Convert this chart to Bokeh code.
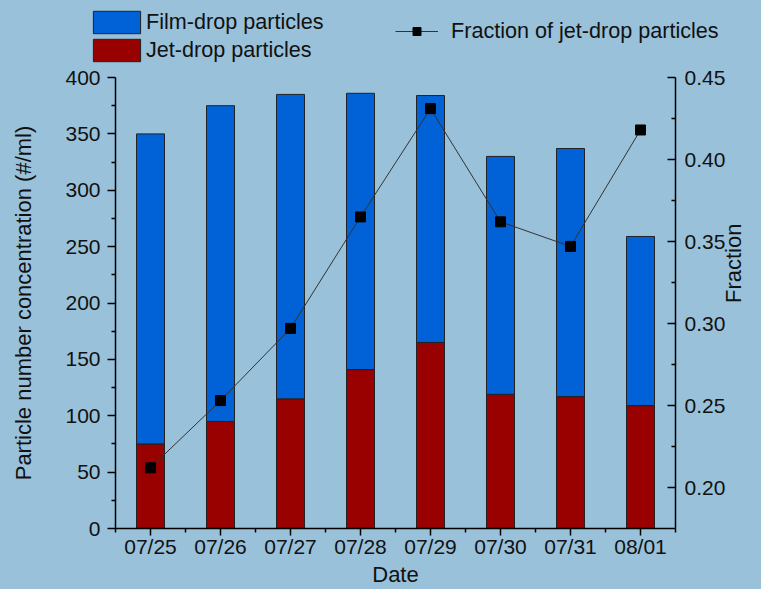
import math
from bokeh.plotting import figure
from bokeh.layouts import column
from bokeh.models import (Range1d, LinearAxis, FixedTicker, Legend, LegendItem,
                          NumeralTickFormatter, ColumnDataSource)
from bokeh.embed import file_html
from bokeh.resources import INLINE

# ---- data ----
dates = ["07/25", "07/26", "07/27", "07/28", "07/29", "07/30", "07/31", "08/01"]
jet_drop = [75, 95, 115, 141, 165, 119, 117, 109]
film_drop = [275, 280, 270, 245, 219, 211, 220, 150]
fraction = [0.212, 0.253, 0.297, 0.365, 0.431, 0.362, 0.347, 0.418]
count_ticks = [0, 50, 100, 150, 200, 250, 300, 350, 400]
fraction_ticks = [0.20, 0.25, 0.30, 0.35, 0.40, 0.45]

# ---- styles ----
BG = "#99C1DA"
BLUE = "#0062D6"
RED = "#990000"
TXT = "#111111"
FONT = "Liberation Sans"
BAR_W = 0.4

xpos = list(range(len(dates)))
total = [j + f for j, f in zip(jet_drop, film_drop)]
src = ColumnDataSource(dict(x=xpos, jet=jet_drop, total=total, frac=fraction))

bar_style = dict(width=BAR_W, line_color="#222222", line_width=1)
line_style = dict(line_color="#333333", line_width=1)
mark_style = dict(marker="square", size=10, fill_color="black", line_color="black")

# ---------------- main chart ----------------
p = figure(width=761, height=526, output_backend="svg", toolbar_location=None,
           x_range=Range1d(-0.5, len(dates) - 0.5), y_range=Range1d(0, 400),
           min_border_left=115, min_border_right=86, min_border_top=14,
           min_border_bottom=60,
           background_fill_color=BG, border_fill_color=BG, outline_line_color=None)
p.grid.visible = False
p.extra_y_ranges = {"frac": Range1d(0.175, 0.45)}

p.vbar(x="x", bottom=0, top="jet", source=src, fill_color=RED, **bar_style)
p.vbar(x="x", bottom="jet", top="total", source=src, fill_color=BLUE, **bar_style)
p.line(x="x", y="frac", source=src, y_range_name="frac", **line_style)
p.scatter(x="x", y="frac", source=src, y_range_name="frac", **mark_style)

def mids(t):
    return [(a + b) / 2 for a, b in zip(t[:-1], t[1:])]

xa = p.xaxis[0]
xa.ticker = FixedTicker(ticks=xpos, minor_ticks=[i - 0.5 for i in range(len(dates) + 1)])
xa.major_label_overrides = {i: d for i, d in zip(xpos, dates)}
xa.axis_label = "Date"

ya = p.yaxis[0]
ya.ticker = FixedTicker(ticks=count_ticks, minor_ticks=mids(count_ticks))
ya.axis_label = "Particle number concentration (#/ml)"

ra = LinearAxis(y_range_name="frac",
                ticker=FixedTicker(ticks=fraction_ticks, minor_ticks=mids(fraction_ticks)),
                formatter=NumeralTickFormatter(format="0.00"),
                axis_label="Fraction")
p.add_layout(ra, "right")
try:
    ra.axis_label_orientation = math.pi / 2
except Exception:
    pass

for ax in (xa, ya, ra):
    ax.axis_line_color = "black"
    ax.axis_line_width = 1.5
    ax.major_tick_line_color = "black"
    ax.minor_tick_line_color = "black"
    ax.major_tick_line_width = 1.5
    ax.minor_tick_line_width = 1.5
    ax.major_label_text_font = FONT
    ax.major_label_text_font_size = "21px"
    ax.major_label_text_color = TXT
    ax.axis_label_text_font = FONT
    ax.axis_label_text_font_size = "22px"
    ax.axis_label_text_font_style = "normal"
    ax.axis_label_text_color = TXT

xa.major_tick_out = 7
xa.major_tick_in = 0
xa.minor_tick_out = 4
xa.minor_tick_in = 0
xa.major_label_standoff = -1
xa.axis_label_standoff = 1

ya.major_tick_out = 8
ya.major_tick_in = 0
ya.minor_tick_out = 4
ya.minor_tick_in = 0
ya.major_label_standoff = 7
ya.axis_label_standoff = 26

ra.major_tick_out = 0
ra.major_tick_in = 8
ra.minor_tick_out = 0
ra.minor_tick_in = 4
ra.major_label_standoff = 9
ra.axis_label_standoff = 5
ra.axis_label_text_baseline = "top"

# ---------------- legend strip above the chart ----------------
# same renderers/styles as the chart; the view range is empty so only the legend shows
top = figure(width=761, height=63, output_backend="svg", toolbar_location=None,
             x_range=Range1d(100, 101), y_range=Range1d(1000, 1001),
             x_axis_location=None, y_axis_location=None,
             min_border_left=0, min_border_right=0, min_border_top=0, min_border_bottom=0,
             background_fill_color=BG, border_fill_color=BG, outline_line_color=None)
top.grid.visible = False
top.extra_y_ranges = {"frac": Range1d(1000, 1001)}
g_jet = top.vbar(x="x", bottom=0, top="jet", source=src, fill_color=RED, **bar_style)
g_film = top.vbar(x="x", bottom="jet", top="total", source=src, fill_color=BLUE, **bar_style)
g_line = top.line(x="x", y="frac", source=src, y_range_name="frac", **line_style)
g_pts = top.scatter(x="x", y="frac", source=src, y_range_name="frac", **mark_style)

for fig in (top, p):
    try:
        fig.frame_align = False
    except Exception:
        pass

LEG_FONT = "21.6px"
leg1 = Legend(items=[LegendItem(label="Film-drop particles", renderers=[g_film]),
                     LegendItem(label="Jet-drop particles", renderers=[g_jet])],
              location=(87, -1), padding=0, spacing=0,
              glyph_width=59, glyph_height=28,
              label_standoff=0, label_height=24, border_line_color=None,
              background_fill_alpha=0, label_text_font=FONT, label_text_font_size=LEG_FONT,
              label_text_color=TXT)
leg2 = Legend(items=[LegendItem(label="Fraction of jet-drop particles",
                                renderers=[g_line, g_pts])],
              location=(395, 19), padding=0, glyph_width=43, glyph_height=20,
              label_standoff=13, label_height=20, border_line_color=None,
              background_fill_alpha=0,
              label_text_font=FONT, label_text_font_size=LEG_FONT, label_text_color=TXT)
top.add_layout(leg1, "center")
top.add_layout(leg2, "center")

layout = column(top, p, spacing=0)

html = file_html(layout, INLINE)
html = html.replace("<head>", "<head><style>html,body{background:%s;}</style>" % BG, 1)
open("out.html", "w").write(html)
